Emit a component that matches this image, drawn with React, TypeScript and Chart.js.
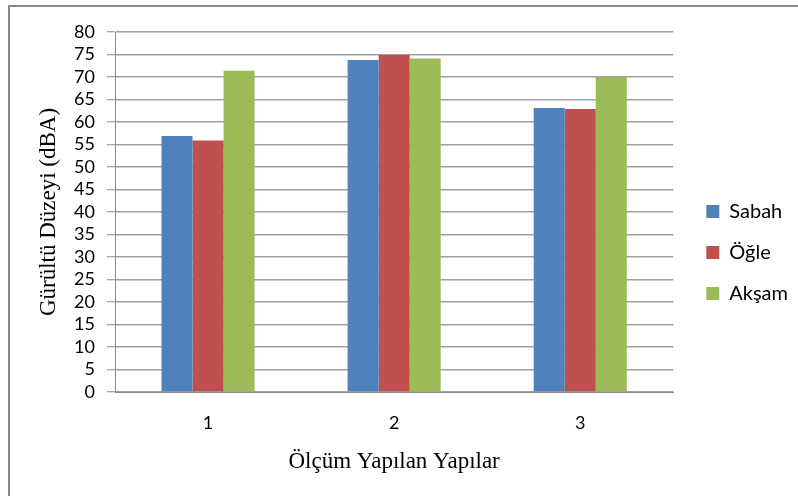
import React, { useEffect, useRef } from 'react';
import { Chart, registerables } from 'chart.js';

Chart.register(...registerables);

const categories = ['1', '2', '3'];
const sabah = [56.9, 73.8, 63.1];
const ogle = [55.9, 74.9, 62.9];
const aksam = [71.4, 74.1, 70.0];
const seriesNames = ['Sabah', 'Öğle', 'Akşam'];
const seriesColors = ['#4F81BD', '#C0504D', '#9BBB59'];
const yTitle = 'Gürültü Düzeyi (dBA)';
const xTitle = 'Ölçüm Yapılan Yapılar';
const yMin = 0;
const yMax = 80;
const yStep = 5;

export default function App() {
  const ref = useRef<HTMLCanvasElement | null>(null);

  useEffect(() => {
    document.body.style.margin = '0';
    if (!ref.current) return;
    const seriesData = [sabah, ogle, aksam];
    const chart = new Chart(ref.current, {
      type: 'bar',
      data: {
        labels: categories,
        datasets: seriesNames.map((name, i) => ({
          label: name,
          data: seriesData[i],
          backgroundColor: seriesColors[i],
          borderWidth: 0,
          categoryPercentage: 0.5,
          barPercentage: 1.0,
          yAxisID: 'y',
        })),
      },
      options: {
        animation: false,
        responsive: false,
        layout: { padding: { top: 32, bottom: 23, left: 0, right: 0 } },
        plugins: {
          legend: {
            position: 'right',
            align: 'center',
            labels: {
              boxWidth: 13,
              boxHeight: 13,
              padding: 21,
              color: '#000',
              font: { family: 'Lato', size: 20 },
            },
          },
          tooltip: { enabled: false },
        },
        scales: {
          x: {
            grid: { drawOnChartArea: false, drawTicks: false },
            border: { display: true, color: '#8a8a8a', width: 1 },
            ticks: { padding: 20, color: '#000', font: { family: 'Lato', size: 18 } },
            title: {
              display: true,
              text: xTitle,
              color: '#000',
              font: { family: 'Liberation Serif', size: 23, lineHeight: 1 },
              padding: { top: 0, bottom: 0 },
            },
            afterFit: (s: any) => { s.height = 81; },
          },
          y: {
            min: yMin,
            max: yMax,
            ticks: {
              stepSize: yStep,
              autoSkip: false,
              padding: 12,
              color: '#000',
              font: { family: 'Lato', size: 18 },
            },
            grid: {
              color: '#a0a0a0',
              lineWidth: 1.5,
              tickLength: 8,
              tickColor: '#8a8a8a',
              tickWidth: 1,
            },
            border: { color: '#8a8a8a', width: 1 },
            title: {
              display: true,
              text: yTitle,
              color: '#000',
              font: { family: 'Liberation Serif', size: 23, lineHeight: 1.2 },
              padding: { top: 35, bottom: 0 },
            },
            afterFit: (s: any) => { s.width = 115; },
          },
          y2: {
            type: 'linear',
            position: 'right',
            display: true,
            min: 0,
            max: 1,
            grid: { display: false },
            border: { display: false },
            ticks: { display: false },
            afterFit: (s: any) => { s.width = 12; },
          },
        },
      },
    } as any);
    return () => chart.destroy();
  }, []);

  return (
    <div style={{ position: 'relative', width: 798, height: 496, overflow: 'hidden', background: '#fff' }}>
      <div
        style={{
          position: 'absolute',
          left: 8,
          top: 5,
          width: 820,
          height: 520,
          borderLeft: '2px solid #888',
          borderTop: '2px solid #888',
          boxSizing: 'border-box',
        }}
      />
      <canvas ref={ref} width={798} height={496} style={{ position: 'absolute', left: 0, top: 0, display: 'block' }} />
    </div>
  );
}
